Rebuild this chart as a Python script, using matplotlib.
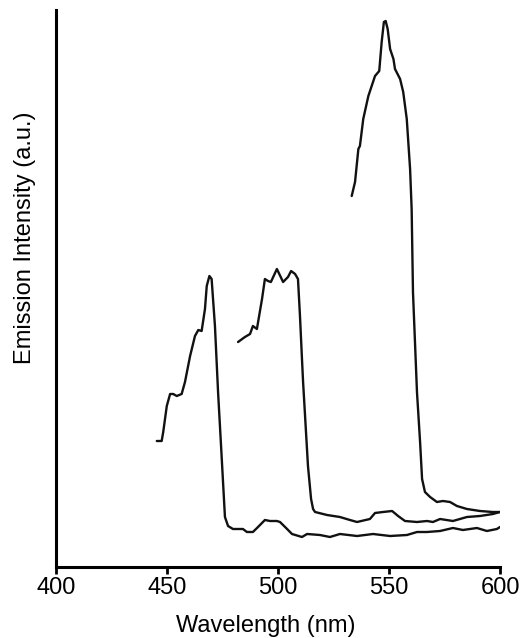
import matplotlib
matplotlib.use("Agg")
import matplotlib.pyplot as plt

plt.rcParams['font.family'] = ['Liberation Sans', 'DejaVu Sans']

# emission spectra (wavelength in nm, intensity in a.u.)
wl_a = [445.4, 447.6, 448.3, 449.9, 451.4, 452.8, 454.4, 456.6, 458.1, 460.4,
        462.6, 464.1, 465.6, 467.1, 467.9, 469.1, 470.1, 471.6, 473.0, 474.5,
        476.1, 477.5, 479.7, 484.2, 486.0, 488.7, 491.0, 494.1, 496.4, 499.5,
        500.9, 504.1, 506.3, 510.8, 513.1, 518.9, 523.4, 527.9, 535.6, 542.8,
        550.5, 558.1, 562.6, 567.1, 573.0, 578.8, 583.3, 589.6, 594.1, 598.6,
        600.0]
int_a = [126, 126, 135, 161, 173, 173, 171, 173, 185, 211,
         231, 237, 236, 258, 281, 291, 288, 241, 175, 115,
         50, 41, 38, 38, 35, 35, 40, 47, 46, 46,
         45, 38, 33, 30, 33, 32, 30, 33, 31, 33,
         31, 32, 35, 35, 36, 39, 37, 39, 36, 38,
         40]

wl_b = [482.0, 485.1, 487.4, 488.7, 490.5, 492.8, 494.1, 495.5, 496.8, 499.5,
        502.3, 504.5, 505.9, 507.7, 509.0, 509.9, 510.8, 511.3, 513.5, 514.9,
        515.8, 516.7, 522.1, 527.9, 532.4, 535.6, 541.4, 543.7, 547.3, 551.4,
        554.1, 557.2, 562.6, 567.1, 569.8, 573.0, 578.8, 585.1, 591.0, 596.8,
        600.0]
int_b = [225, 230, 233, 241, 238, 268, 288, 286, 285, 298,
         285, 290, 296, 293, 288, 251, 208, 185, 101, 68,
         58, 55, 52, 50, 47, 45, 48, 54, 55, 56,
         51, 46, 45, 46, 45, 48, 46, 50, 51, 53,
         55]

wl_c = [533.2, 534.7, 536.2, 536.9, 538.4, 540.7, 542.2, 543.7, 545.6, 546.7,
        547.7, 548.5, 549.4, 550.5, 552.0, 552.7, 555.0, 556.4, 558.0, 559.5,
        560.2, 560.8, 562.6, 564.0, 564.9, 566.2, 568.5, 571.6, 574.3, 577.5,
        580.6, 585.1, 591.0, 596.8, 600.0]
int_c = [371, 385, 418, 421, 448, 471, 481, 491, 496, 525,
         545, 546, 538, 518, 508, 498, 488, 475, 448, 398,
         358, 275, 175, 125, 88, 75, 70, 65, 66, 65,
         61, 58, 56, 55, 55]

xticks = [400, 450, 500, 550, 600]

fig = plt.figure(figsize=(5.26, 6.38), dpi=100)
ax = fig.add_axes([56 / 526, 71 / 638, 444 / 526, 557 / 638])

for wl, inten in [(wl_a, int_a), (wl_b, int_b), (wl_c, int_c)]:
    ax.plot(wl, inten, color='#111111', lw=1.7,
            solid_joinstyle='round', solid_capstyle='round')

ax.set_xlim(400, 600)
ax.set_ylim(0, 557)
ax.set_xticks(xticks)
ax.set_yticks([])
ax.spines['top'].set_visible(False)
ax.spines['right'].set_visible(False)
ax.spines['left'].set_linewidth(2.2)
ax.spines['bottom'].set_linewidth(2.2)
ax.tick_params(axis='x', direction='out', length=5, width=2, labelsize=17, pad=2)
ax.set_xlabel('Wavelength (nm)', fontsize=17, va='center')
ax.xaxis.set_label_coords((266 - 56) / 444, -0.106)
fig.text(25 / 526, 1 - 238 / 638, 'Emission Intensity (a.u.)', rotation=90,
         fontsize=17, ha='center', va='center')

fig.savefig('out.png', dpi=100)
